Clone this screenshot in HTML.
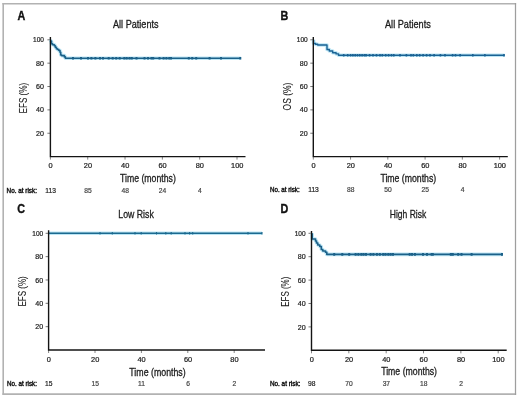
<!DOCTYPE html>
<html><head><meta charset="utf-8"><style>
html,body{margin:0;padding:0;background:#fff;}
svg{display:block;font-family:"Liberation Sans",sans-serif;will-change:transform;filter:blur(0.25px);}
</style></head><body>
<svg width="520" height="399" viewBox="0 0 520 399">
<rect x="0" y="0" width="520" height="399" fill="#fff"/>
<path d="M3.2 2.95V394.8" stroke="#b2b2b2" stroke-width="1.6"/>
<path d="M2.4 3.75H516.1" stroke="#b2b2b2" stroke-width="1.6"/>
<path d="M2.4 394.1H516.1" stroke="#b2b2b2" stroke-width="1.7"/>
<path d="M515.5 3V394.9" stroke="#9e9e9e" stroke-width="1.25"/>
<path d="M47.4 133.24 H50.4" stroke="#555" stroke-width="0.8"/>
<text x="44" y="135.84" font-size="7.4" text-anchor="end" font-weight="normal" fill="#222" textLength="7.9" lengthAdjust="spacingAndGlyphs" stroke="#222" stroke-width="0.22">20</text>
<path d="M47.4 109.88 H50.4" stroke="#555" stroke-width="0.8"/>
<text x="44" y="112.48" font-size="7.4" text-anchor="end" font-weight="normal" fill="#222" textLength="7.9" lengthAdjust="spacingAndGlyphs" stroke="#222" stroke-width="0.22">40</text>
<path d="M47.4 86.52 H50.4" stroke="#555" stroke-width="0.8"/>
<text x="44" y="89.12" font-size="7.4" text-anchor="end" font-weight="normal" fill="#222" textLength="7.9" lengthAdjust="spacingAndGlyphs" stroke="#222" stroke-width="0.22">60</text>
<path d="M47.4 63.16 H50.4" stroke="#555" stroke-width="0.8"/>
<text x="44" y="65.76" font-size="7.4" text-anchor="end" font-weight="normal" fill="#222" textLength="7.9" lengthAdjust="spacingAndGlyphs" stroke="#222" stroke-width="0.22">80</text>
<path d="M47.4 39.8 H50.4" stroke="#555" stroke-width="0.8"/>
<text x="44" y="42.4" font-size="7.4" text-anchor="end" font-weight="normal" fill="#222" textLength="10.9" lengthAdjust="spacingAndGlyphs" stroke="#222" stroke-width="0.22">100</text>
<path d="M50.4 156.6 V159.6" stroke="#666" stroke-width="0.8"/>
<text x="50.6" y="168.3" font-size="7.4" text-anchor="middle" font-weight="normal" fill="#222" stroke="#222" stroke-width="0.22">0</text>
<path d="M87.72 156.6 V159.6" stroke="#666" stroke-width="0.8"/>
<text x="87.92" y="168.3" font-size="7.4" text-anchor="middle" font-weight="normal" fill="#222" stroke="#222" stroke-width="0.22">20</text>
<path d="M125.04 156.6 V159.6" stroke="#666" stroke-width="0.8"/>
<text x="125.24" y="168.3" font-size="7.4" text-anchor="middle" font-weight="normal" fill="#222" stroke="#222" stroke-width="0.22">40</text>
<path d="M162.36 156.6 V159.6" stroke="#666" stroke-width="0.8"/>
<text x="162.56" y="168.3" font-size="7.4" text-anchor="middle" font-weight="normal" fill="#222" stroke="#222" stroke-width="0.22">60</text>
<path d="M199.68 156.6 V159.6" stroke="#666" stroke-width="0.8"/>
<text x="199.88" y="168.3" font-size="7.4" text-anchor="middle" font-weight="normal" fill="#222" stroke="#222" stroke-width="0.22">80</text>
<path d="M237 156.6 V159.6" stroke="#666" stroke-width="0.8"/>
<text x="237.2" y="168.3" font-size="7.4" text-anchor="middle" font-weight="normal" fill="#222" stroke="#222" stroke-width="0.22">100</text>
<path d="M50.8 39.8V41.2H51.5V43.8H52.6V44.7H54.4V45.8H55.3V47.2H56.4V48.7H57.5V49.5H58.8V50.5H60V52.3H60.7V55H61.6V55.6H64.4V56.9H65.4V58.2H240.8" fill="none" stroke="#bde6f5" stroke-width="3.6" stroke-linejoin="round"/>
<path d="M50.8 39.8V41.2H51.5V43.8H52.6V44.7H54.4V45.8H55.3V47.2H56.4V48.7H57.5V49.5H58.8V50.5H60V52.3H60.7V55H61.6V55.6H64.4V56.9H65.4V58.2H240.8" fill="none" stroke="#1c6189" stroke-width="1.6" stroke-linejoin="round"/>
<path d="M73 56.9V59.5M81 56.9V59.5M88 56.9V59.5M91.4 56.9V59.5M95.4 56.9V59.5M100 56.9V59.5M103 56.9V59.5M108.7 56.9V59.5M112.7 56.9V59.5M116.2 56.9V59.5M119.7 56.9V59.5M124.3 56.9V59.5M126.7 56.9V59.5M129.5 56.9V59.5M131.8 56.9V59.5M136.5 56.9V59.5M144.5 56.9V59.5M148 56.9V59.5M151.5 56.9V59.5M153.2 56.9V59.5M159.5 56.9V59.5M163.6 56.9V59.5M166.4 56.9V59.5M169.3 56.9V59.5M171 56.9V59.5M188.8 56.9V59.5M192.2 56.9V59.5M196.2 56.9V59.5M209.6 56.9V59.5M221 56.9V59.5M240.3 56.9V59.5" stroke="#1c6189" stroke-width="2"/>
<path d="M50.4 37 V156.6 H245.5" fill="none" stroke="#141414" stroke-width="1.4"/>
<text x="17.5" y="19.6" font-size="12" text-anchor="start" font-weight="bold" fill="#111" textLength="7.8" lengthAdjust="spacingAndGlyphs" stroke="#111" stroke-width="0.35">A</text>
<text x="113" y="27.7" font-size="10.4" text-anchor="start" font-weight="normal" fill="#1c1c1c" textLength="45.6" lengthAdjust="spacingAndGlyphs" stroke="#1c1c1c" stroke-width="0.3">All Patients</text>
<text x="120" y="181.8" font-size="10.1" text-anchor="start" font-weight="normal" fill="#1c1c1c" textLength="55.8" lengthAdjust="spacingAndGlyphs" stroke="#1c1c1c" stroke-width="0.3">Time (months)</text>
<text transform="translate(27 98.1) rotate(-90)" x="0" y="0" font-size="10.2" text-anchor="middle" fill="#1c1c1c" stroke="#1c1c1c" stroke-width="0.08" textLength="30.6" lengthAdjust="spacingAndGlyphs">EFS (%)</text>
<text x="6.6" y="192.5" font-size="6.3" text-anchor="start" font-weight="normal" fill="#111" textLength="30.3" lengthAdjust="spacingAndGlyphs" stroke="#111" stroke-width="0.38">No. at risk:</text>
<text x="50.6" y="192.5" font-size="6.7" text-anchor="middle" font-weight="normal" fill="#222" stroke="#222" stroke-width="0.2">113</text>
<text x="87.92" y="192.5" font-size="6.7" text-anchor="middle" font-weight="normal" fill="#444" stroke="#444" stroke-width="0.2">85</text>
<text x="125.24" y="192.5" font-size="6.7" text-anchor="middle" font-weight="normal" fill="#444" stroke="#444" stroke-width="0.2">48</text>
<text x="162.56" y="192.5" font-size="6.7" text-anchor="middle" font-weight="normal" fill="#444" stroke="#444" stroke-width="0.2">24</text>
<text x="199.88" y="192.5" font-size="6.7" text-anchor="middle" font-weight="normal" fill="#444" stroke="#444" stroke-width="0.2">4</text>
<path d="M310.3 133.24 H313.3" stroke="#555" stroke-width="0.8"/>
<text x="307.7" y="135.84" font-size="7.4" text-anchor="end" font-weight="normal" fill="#222" textLength="7.9" lengthAdjust="spacingAndGlyphs" stroke="#222" stroke-width="0.22">20</text>
<path d="M310.3 109.88 H313.3" stroke="#555" stroke-width="0.8"/>
<text x="307.7" y="112.48" font-size="7.4" text-anchor="end" font-weight="normal" fill="#222" textLength="7.9" lengthAdjust="spacingAndGlyphs" stroke="#222" stroke-width="0.22">40</text>
<path d="M310.3 86.52 H313.3" stroke="#555" stroke-width="0.8"/>
<text x="307.7" y="89.12" font-size="7.4" text-anchor="end" font-weight="normal" fill="#222" textLength="7.9" lengthAdjust="spacingAndGlyphs" stroke="#222" stroke-width="0.22">60</text>
<path d="M310.3 63.16 H313.3" stroke="#555" stroke-width="0.8"/>
<text x="307.7" y="65.76" font-size="7.4" text-anchor="end" font-weight="normal" fill="#222" textLength="7.9" lengthAdjust="spacingAndGlyphs" stroke="#222" stroke-width="0.22">80</text>
<path d="M310.3 39.8 H313.3" stroke="#555" stroke-width="0.8"/>
<text x="307.7" y="42.4" font-size="7.4" text-anchor="end" font-weight="normal" fill="#222" textLength="10.9" lengthAdjust="spacingAndGlyphs" stroke="#222" stroke-width="0.22">100</text>
<path d="M313.3 156.6 V159.6" stroke="#666" stroke-width="0.8"/>
<text x="313.5" y="168.1" font-size="7.4" text-anchor="middle" font-weight="normal" fill="#222" stroke="#222" stroke-width="0.22">0</text>
<path d="M350.56 156.6 V159.6" stroke="#666" stroke-width="0.8"/>
<text x="350.76" y="168.1" font-size="7.4" text-anchor="middle" font-weight="normal" fill="#222" stroke="#222" stroke-width="0.22">20</text>
<path d="M387.82 156.6 V159.6" stroke="#666" stroke-width="0.8"/>
<text x="388.02" y="168.1" font-size="7.4" text-anchor="middle" font-weight="normal" fill="#222" stroke="#222" stroke-width="0.22">40</text>
<path d="M425.08 156.6 V159.6" stroke="#666" stroke-width="0.8"/>
<text x="425.28" y="168.1" font-size="7.4" text-anchor="middle" font-weight="normal" fill="#222" stroke="#222" stroke-width="0.22">60</text>
<path d="M462.34 156.6 V159.6" stroke="#666" stroke-width="0.8"/>
<text x="462.54" y="168.1" font-size="7.4" text-anchor="middle" font-weight="normal" fill="#222" stroke="#222" stroke-width="0.22">80</text>
<path d="M499.6 156.6 V159.6" stroke="#666" stroke-width="0.8"/>
<text x="499.8" y="168.1" font-size="7.4" text-anchor="middle" font-weight="normal" fill="#222" stroke="#222" stroke-width="0.22">100</text>
<path d="M313.6 39.8V43.5H315.5V44.2H317.7V45H327V49.5H329.3V51H332.7V52.8H336.1V53.9H338.5V55.2H504.5" fill="none" stroke="#bde6f5" stroke-width="3.6" stroke-linejoin="round"/>
<path d="M313.6 39.8V43.5H315.5V44.2H317.7V45H327V49.5H329.3V51H332.7V52.8H336.1V53.9H338.5V55.2H504.5" fill="none" stroke="#1a6294" stroke-width="1.4" stroke-linejoin="round"/>
<path d="M343.7 53.9V56.5M347.7 53.9V56.5M350.6 53.9V56.5M352.9 53.9V56.5M355.2 53.9V56.5M357.5 53.9V56.5M359.8 53.9V56.5M362.1 53.9V56.5M364.4 53.9V56.5M366.1 53.9V56.5M369.6 53.9V56.5M373 53.9V56.5M376.5 53.9V56.5M380 53.9V56.5M382.3 53.9V56.5M385.7 53.9V56.5M388.6 53.9V56.5M391.5 53.9V56.5M393.8 53.9V56.5M400 53.9V56.5M406.4 53.9V56.5M411 53.9V56.5M413.3 53.9V56.5M416.8 53.9V56.5M419.7 53.9V56.5M423.1 53.9V56.5M426.6 53.9V56.5M430 53.9V56.5M434.1 53.9V56.5M440.4 53.9V56.5M445 53.9V56.5M452.6 53.9V56.5M455.5 53.9V56.5M460.1 53.9V56.5M472.8 53.9V56.5M484.9 53.9V56.5M504 53.9V56.5" stroke="#1a6294" stroke-width="1.6"/>
<path d="M313.3 37 V156.6 H507.8" fill="none" stroke="#141414" stroke-width="1.4"/>
<text x="280.5" y="19.9" font-size="12" text-anchor="start" font-weight="bold" fill="#111" textLength="7.8" lengthAdjust="spacingAndGlyphs" stroke="#111" stroke-width="0.35">B</text>
<text x="385" y="27.7" font-size="10.4" text-anchor="start" font-weight="normal" fill="#1c1c1c" textLength="45.8" lengthAdjust="spacingAndGlyphs" stroke="#1c1c1c" stroke-width="0.3">All Patients</text>
<text x="380.4" y="182" font-size="10.1" text-anchor="start" font-weight="normal" fill="#1c1c1c" textLength="55.8" lengthAdjust="spacingAndGlyphs" stroke="#1c1c1c" stroke-width="0.3">Time (months)</text>
<text transform="translate(290.8 96.5) rotate(-90)" x="0" y="0" font-size="10.2" text-anchor="middle" fill="#1c1c1c" stroke="#1c1c1c" stroke-width="0.08" textLength="27.8" lengthAdjust="spacingAndGlyphs">OS (%)</text>
<text x="270" y="192.4" font-size="6.3" text-anchor="start" font-weight="normal" fill="#111" textLength="29.6" lengthAdjust="spacingAndGlyphs" stroke="#111" stroke-width="0.38">No. at risk:</text>
<text x="313.5" y="192.4" font-size="6.7" text-anchor="middle" font-weight="normal" fill="#222" stroke="#222" stroke-width="0.2">113</text>
<text x="350.76" y="192.4" font-size="6.7" text-anchor="middle" font-weight="normal" fill="#444" stroke="#444" stroke-width="0.2">88</text>
<text x="388.02" y="192.4" font-size="6.7" text-anchor="middle" font-weight="normal" fill="#444" stroke="#444" stroke-width="0.2">50</text>
<text x="425.28" y="192.4" font-size="6.7" text-anchor="middle" font-weight="normal" fill="#444" stroke="#444" stroke-width="0.2">25</text>
<text x="462.54" y="192.4" font-size="6.7" text-anchor="middle" font-weight="normal" fill="#444" stroke="#444" stroke-width="0.2">4</text>
<path d="M45.6 326.66 H48.6" stroke="#555" stroke-width="0.8"/>
<text x="43.2" y="329.26" font-size="7.4" text-anchor="end" font-weight="normal" fill="#222" textLength="7.9" lengthAdjust="spacingAndGlyphs" stroke="#222" stroke-width="0.22">20</text>
<path d="M45.6 303.32 H48.6" stroke="#555" stroke-width="0.8"/>
<text x="43.2" y="305.92" font-size="7.4" text-anchor="end" font-weight="normal" fill="#222" textLength="7.9" lengthAdjust="spacingAndGlyphs" stroke="#222" stroke-width="0.22">40</text>
<path d="M45.6 279.98 H48.6" stroke="#555" stroke-width="0.8"/>
<text x="43.2" y="282.58" font-size="7.4" text-anchor="end" font-weight="normal" fill="#222" textLength="7.9" lengthAdjust="spacingAndGlyphs" stroke="#222" stroke-width="0.22">60</text>
<path d="M45.6 256.64 H48.6" stroke="#555" stroke-width="0.8"/>
<text x="43.2" y="259.24" font-size="7.4" text-anchor="end" font-weight="normal" fill="#222" textLength="7.9" lengthAdjust="spacingAndGlyphs" stroke="#222" stroke-width="0.22">80</text>
<path d="M45.6 233.3 H48.6" stroke="#555" stroke-width="0.8"/>
<text x="43.2" y="235.9" font-size="7.4" text-anchor="end" font-weight="normal" fill="#222" textLength="10.9" lengthAdjust="spacingAndGlyphs" stroke="#222" stroke-width="0.22">100</text>
<path d="M48.6 350 V353" stroke="#666" stroke-width="0.8"/>
<text x="48.8" y="361.7" font-size="7.4" text-anchor="middle" font-weight="normal" fill="#222" stroke="#222" stroke-width="0.22">0</text>
<path d="M95 350 V353" stroke="#666" stroke-width="0.8"/>
<text x="95.2" y="361.7" font-size="7.4" text-anchor="middle" font-weight="normal" fill="#222" stroke="#222" stroke-width="0.22">20</text>
<path d="M141.4 350 V353" stroke="#666" stroke-width="0.8"/>
<text x="141.6" y="361.7" font-size="7.4" text-anchor="middle" font-weight="normal" fill="#222" stroke="#222" stroke-width="0.22">40</text>
<path d="M187.8 350 V353" stroke="#666" stroke-width="0.8"/>
<text x="188" y="361.7" font-size="7.4" text-anchor="middle" font-weight="normal" fill="#222" stroke="#222" stroke-width="0.22">60</text>
<path d="M234.2 350 V353" stroke="#666" stroke-width="0.8"/>
<text x="234.4" y="361.7" font-size="7.4" text-anchor="middle" font-weight="normal" fill="#222" stroke="#222" stroke-width="0.22">80</text>
<path d="M48.6 233.3H262" fill="none" stroke="#bde6f5" stroke-width="3.6" stroke-linejoin="round"/>
<path d="M48.6 233.3H262" fill="none" stroke="#1c6a90" stroke-width="1.4" stroke-linejoin="round"/>
<path d="M100 232V234.6M112.3 232V234.6M135 232V234.6M141.2 232V234.6M156.5 232V234.6M165.8 232V234.6M171.2 232V234.6M185 232V234.6M189.6 232V234.6M192.7 232V234.6M248 232V234.6M262 232V234.6" stroke="#1c6a90" stroke-width="1.1"/>
<path d="M48.6 230.3 V350 H265" fill="none" stroke="#141414" stroke-width="1.4"/>
<text x="17.2" y="213.2" font-size="12" text-anchor="start" font-weight="bold" fill="#111" textLength="7.8" lengthAdjust="spacingAndGlyphs" stroke="#111" stroke-width="0.35">C</text>
<text x="118.3" y="218.1" font-size="10.4" text-anchor="start" font-weight="normal" fill="#1c1c1c" textLength="35.5" lengthAdjust="spacingAndGlyphs" stroke="#1c1c1c" stroke-width="0.3">Low Risk</text>
<text x="129.3" y="376.2" font-size="10.1" text-anchor="start" font-weight="normal" fill="#1c1c1c" textLength="56.4" lengthAdjust="spacingAndGlyphs" stroke="#1c1c1c" stroke-width="0.3">Time (months)</text>
<text transform="translate(25.6 291.4) rotate(-90)" x="0" y="0" font-size="10.2" text-anchor="middle" fill="#1c1c1c" stroke="#1c1c1c" stroke-width="0.08" textLength="30.4" lengthAdjust="spacingAndGlyphs">EFS (%)</text>
<text x="7" y="385.9" font-size="6.3" text-anchor="start" font-weight="normal" fill="#111" textLength="30" lengthAdjust="spacingAndGlyphs" stroke="#111" stroke-width="0.38">No. at risk:</text>
<text x="48.8" y="385.9" font-size="6.7" text-anchor="middle" font-weight="normal" fill="#222" stroke="#222" stroke-width="0.2">15</text>
<text x="95.2" y="385.9" font-size="6.7" text-anchor="middle" font-weight="normal" fill="#444" stroke="#444" stroke-width="0.2">15</text>
<text x="141.6" y="385.9" font-size="6.7" text-anchor="middle" font-weight="normal" fill="#444" stroke="#444" stroke-width="0.2">11</text>
<text x="188" y="385.9" font-size="6.7" text-anchor="middle" font-weight="normal" fill="#444" stroke="#444" stroke-width="0.2">6</text>
<text x="234.4" y="385.9" font-size="6.7" text-anchor="middle" font-weight="normal" fill="#444" stroke="#444" stroke-width="0.2">2</text>
<path d="M308.5 326.9 H311.5" stroke="#555" stroke-width="0.8"/>
<text x="305.6" y="329.5" font-size="7.4" text-anchor="end" font-weight="normal" fill="#222" textLength="7.9" lengthAdjust="spacingAndGlyphs" stroke="#222" stroke-width="0.22">20</text>
<path d="M308.5 303.5 H311.5" stroke="#555" stroke-width="0.8"/>
<text x="305.6" y="306.1" font-size="7.4" text-anchor="end" font-weight="normal" fill="#222" textLength="7.9" lengthAdjust="spacingAndGlyphs" stroke="#222" stroke-width="0.22">40</text>
<path d="M308.5 280.1 H311.5" stroke="#555" stroke-width="0.8"/>
<text x="305.6" y="282.7" font-size="7.4" text-anchor="end" font-weight="normal" fill="#222" textLength="7.9" lengthAdjust="spacingAndGlyphs" stroke="#222" stroke-width="0.22">60</text>
<path d="M308.5 256.7 H311.5" stroke="#555" stroke-width="0.8"/>
<text x="305.6" y="259.3" font-size="7.4" text-anchor="end" font-weight="normal" fill="#222" textLength="7.9" lengthAdjust="spacingAndGlyphs" stroke="#222" stroke-width="0.22">80</text>
<path d="M308.5 233.3 H311.5" stroke="#555" stroke-width="0.8"/>
<text x="305.6" y="235.9" font-size="7.4" text-anchor="end" font-weight="normal" fill="#222" textLength="10.9" lengthAdjust="spacingAndGlyphs" stroke="#222" stroke-width="0.22">100</text>
<path d="M311.5 350.3 V353.3" stroke="#666" stroke-width="0.8"/>
<text x="311.7" y="361.6" font-size="7.4" text-anchor="middle" font-weight="normal" fill="#222" stroke="#222" stroke-width="0.22">0</text>
<path d="M348.84 350.3 V353.3" stroke="#666" stroke-width="0.8"/>
<text x="349.04" y="361.6" font-size="7.4" text-anchor="middle" font-weight="normal" fill="#222" stroke="#222" stroke-width="0.22">20</text>
<path d="M386.18 350.3 V353.3" stroke="#666" stroke-width="0.8"/>
<text x="386.38" y="361.6" font-size="7.4" text-anchor="middle" font-weight="normal" fill="#222" stroke="#222" stroke-width="0.22">40</text>
<path d="M423.52 350.3 V353.3" stroke="#666" stroke-width="0.8"/>
<text x="423.72" y="361.6" font-size="7.4" text-anchor="middle" font-weight="normal" fill="#222" stroke="#222" stroke-width="0.22">60</text>
<path d="M460.86 350.3 V353.3" stroke="#666" stroke-width="0.8"/>
<text x="461.06" y="361.6" font-size="7.4" text-anchor="middle" font-weight="normal" fill="#222" stroke="#222" stroke-width="0.22">80</text>
<path d="M498.2 350.3 V353.3" stroke="#666" stroke-width="0.8"/>
<text x="498.4" y="361.6" font-size="7.4" text-anchor="middle" font-weight="normal" fill="#222" stroke="#222" stroke-width="0.22">100</text>
<path d="M312.2 233.3V239H315.5V241H316.5V243H317.8V245H319.8V246.5H321.3V249.5H322.8V251H325.5V252.3H326.8V254.4H502.5" fill="none" stroke="#bde6f5" stroke-width="3.6" stroke-linejoin="round"/>
<path d="M312.2 233.3V239H315.5V241H316.5V243H317.8V245H319.8V246.5H321.3V249.5H322.8V251H325.5V252.3H326.8V254.4H502.5" fill="none" stroke="#1c6189" stroke-width="1.6" stroke-linejoin="round"/>
<path d="M334.2 253.1V255.7M342.3 253.1V255.7M349.2 253.1V255.7M355.6 253.1V255.7M358.4 253.1V255.7M361.3 253.1V255.7M363.6 253.1V255.7M366 253.1V255.7M370.6 253.1V255.7M373.4 253.1V255.7M376.9 253.1V255.7M379.8 253.1V255.7M383.2 253.1V255.7M385.5 253.1V255.7M388.3 253.1V255.7M390.7 253.1V255.7M393 253.1V255.7M409.7 253.1V255.7M412 253.1V255.7M414.9 253.1V255.7M423 253.1V255.7M427 253.1V255.7M431.6 253.1V255.7M432.8 253.1V255.7M450.8 253.1V255.7M452.8 253.1V255.7M458.2 253.1V255.7M461.5 253.1V255.7M471.6 253.1V255.7M502 253.1V255.7" stroke="#1c6189" stroke-width="2"/>
<path d="M311.5 230.9 V350.3 H506.7" fill="none" stroke="#141414" stroke-width="1.4"/>
<text x="280.5" y="213.2" font-size="12" text-anchor="start" font-weight="bold" fill="#111" textLength="7.8" lengthAdjust="spacingAndGlyphs" stroke="#111" stroke-width="0.35">D</text>
<text x="389.8" y="218.3" font-size="10.4" text-anchor="start" font-weight="normal" fill="#1c1c1c" textLength="36.5" lengthAdjust="spacingAndGlyphs" stroke="#1c1c1c" stroke-width="0.3">High Risk</text>
<text x="381.2" y="375.2" font-size="10.1" text-anchor="start" font-weight="normal" fill="#1c1c1c" textLength="55.8" lengthAdjust="spacingAndGlyphs" stroke="#1c1c1c" stroke-width="0.3">Time (months)</text>
<text transform="translate(289.2 291.7) rotate(-90)" x="0" y="0" font-size="10.2" text-anchor="middle" fill="#1c1c1c" stroke="#1c1c1c" stroke-width="0.08" textLength="30.1" lengthAdjust="spacingAndGlyphs">EFS (%)</text>
<text x="269.9" y="385.9" font-size="6.3" text-anchor="start" font-weight="normal" fill="#111" textLength="30.5" lengthAdjust="spacingAndGlyphs" stroke="#111" stroke-width="0.38">No. at risk:</text>
<text x="311.7" y="385.9" font-size="6.7" text-anchor="middle" font-weight="normal" fill="#222" stroke="#222" stroke-width="0.2">98</text>
<text x="349.04" y="385.9" font-size="6.7" text-anchor="middle" font-weight="normal" fill="#444" stroke="#444" stroke-width="0.2">70</text>
<text x="386.38" y="385.9" font-size="6.7" text-anchor="middle" font-weight="normal" fill="#444" stroke="#444" stroke-width="0.2">37</text>
<text x="423.72" y="385.9" font-size="6.7" text-anchor="middle" font-weight="normal" fill="#444" stroke="#444" stroke-width="0.2">18</text>
<text x="461.06" y="385.9" font-size="6.7" text-anchor="middle" font-weight="normal" fill="#444" stroke="#444" stroke-width="0.2">2</text>
</svg>
</body></html>
